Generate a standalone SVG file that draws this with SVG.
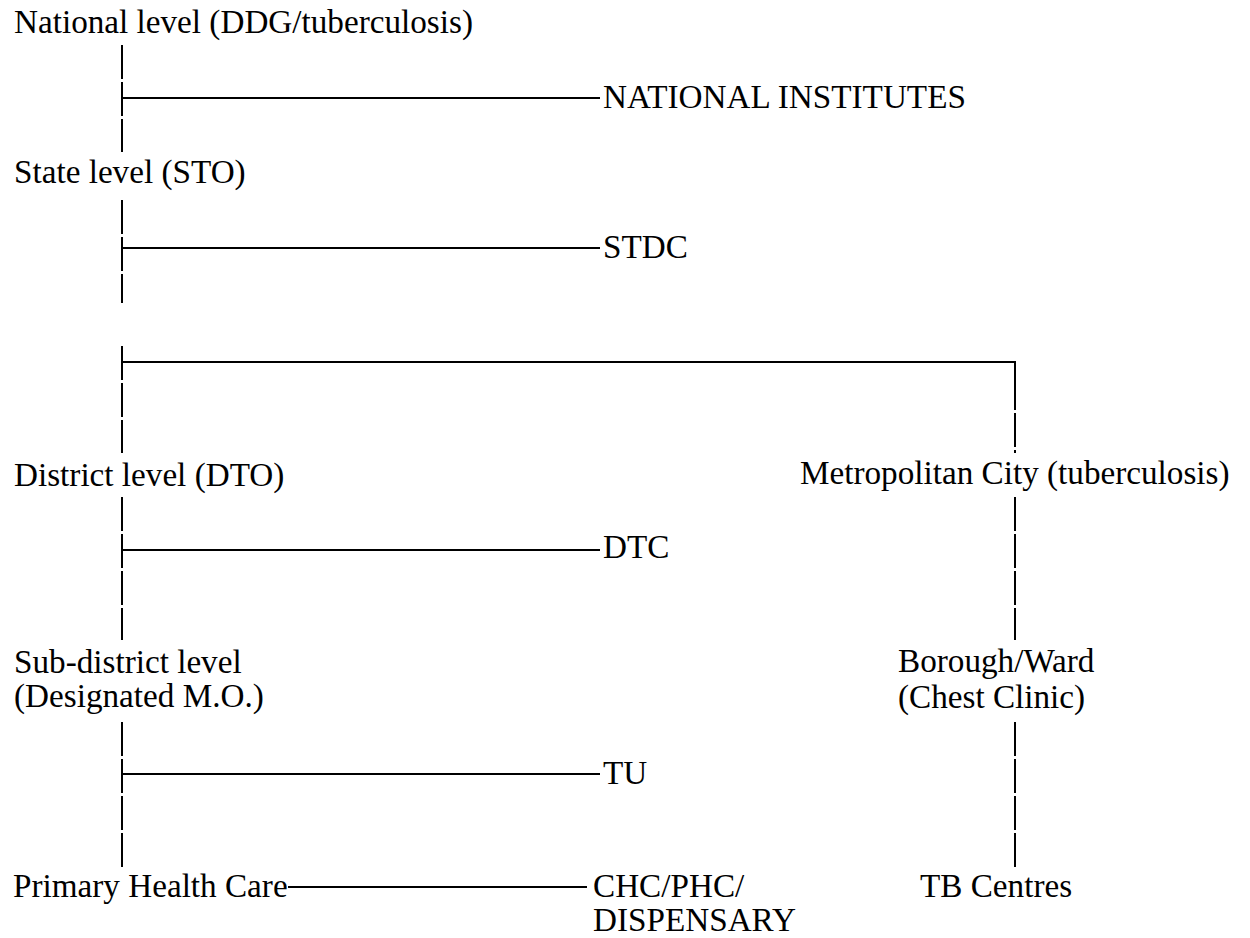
<svg xmlns="http://www.w3.org/2000/svg" width="1250" height="938" viewBox="0 0 1250 938">
<style>
text{font-family:"Liberation Serif","Times New Roman",serif;font-size:33.2px;fill:#000}
.v{stroke:#000;stroke-width:2;stroke-dasharray:34 3;fill:none}
.h{stroke:#000;stroke-width:2;fill:none}
</style>
<rect width="1250" height="938" fill="#fff"/>
<g id="connectors">
<line class="v" x1="122" y1="45" x2="122" y2="152"/>
<line class="h" x1="122" y1="98" x2="600" y2="98"/>
<line class="v" x1="122" y1="200" x2="122" y2="303"/>
<line class="h" x1="122" y1="248" x2="600" y2="248"/>
<line class="v" x1="122" y1="346" x2="122" y2="453"/>
<polyline class="h" points="122,362 1015,362 1015,376"/>
<line class="v" x1="1015" y1="376" x2="1015" y2="453"/>
<line class="v" x1="122" y1="497" x2="122" y2="640"/>
<line class="h" x1="122" y1="550" x2="600" y2="550"/>
<line class="v" x1="1015" y1="497" x2="1015" y2="640"/>
<line class="v" x1="122" y1="722" x2="122" y2="867"/>
<line class="h" x1="122" y1="774" x2="600" y2="774"/>
<line class="v" x1="1015" y1="722" x2="1015" y2="867"/>
<line class="h" x1="288" y1="887" x2="587" y2="887"/>
</g>
<g id="national"><text x="14" y="33">National level (DDG/tuberculosis)</text></g>
<g id="national-institutes"><text x="603" y="108">NATIONAL INSTITUTES</text></g>
<g id="state"><text x="14" y="183">State level (STO)</text></g>
<g id="stdc"><text x="603" y="258">STDC</text></g>
<g id="district"><text x="14" y="486">District level (DTO)</text></g>
<g id="metro"><text x="800" y="484">Metropolitan City (tuberculosis)</text></g>
<g id="dtc"><text x="603" y="558">DTC</text></g>
<g id="subdistrict"><text x="14" y="673">Sub-district level</text><text x="14" y="707">(Designated M.O.)</text></g>
<g id="borough"><text x="898" y="672">Borough/Ward</text><text x="898" y="708">(Chest Clinic)</text></g>
<g id="tu"><text x="603" y="784">TU</text></g>
<g id="phc"><text x="13" y="897">Primary Health Care</text></g>
<g id="chc"><text x="593" y="897">CHC/PHC/</text><text x="593" y="931">DISPENSARY</text></g>
<g id="tb"><text x="920" y="897">TB Centres</text></g>
</svg>
